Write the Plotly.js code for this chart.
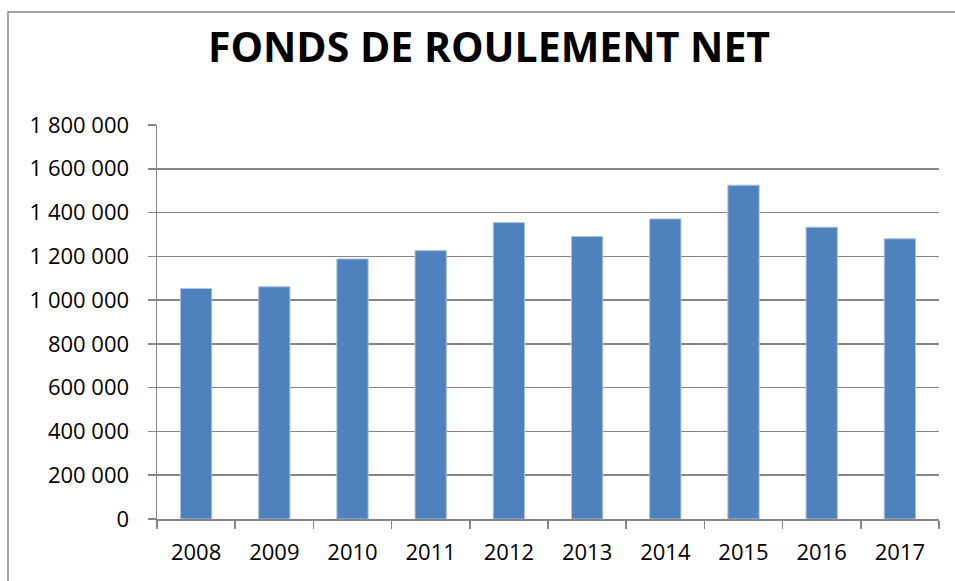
<!DOCTYPE html>
<html>
<head>
<meta charset="utf-8">
<script src="https://cdn.plot.ly/plotly-3.0.1.min.js"></script>
<style>
  html, body { margin: 0; padding: 0; background: #fff; }
  #chart { width: 955px; height: 581px; }
</style>
</head>
<body>
<div id="chart"></div>
<script>
const years = ['2008','2009','2010','2011','2012','2013','2014','2015','2016','2017'];
const fondsRoulement = [1053000, 1061000, 1188000, 1226000, 1354000, 1291000, 1371000, 1525000, 1333000, 1280000];
const yTicks = [0, 200000, 400000, 600000, 800000, 1000000, 1200000, 1400000, 1600000, 1800000];
const chartTitle = 'FONDS DE ROULEMENT NET';

const L = 157, R = 16, T = 125, B = 62, W = 955, H = 581;
const pw = W - L - R, ph = H - T - B;
const px2x = p => (p - L) / pw;
const py2y = p => (H - B - p) / ph;

const trace = {
  type: 'bar',
  x: years,
  y: fondsRoulement,
  marker: { color: '#4F81BD', line: { color: '#a9c1e3', width: 1 } },
  hoverinfo: 'x+y'
};

const layout = {
  width: W, height: H,
  margin: { l: L, r: R, t: T, b: B, pad: 0 },
  paper_bgcolor: '#fff', plot_bgcolor: '#fff',
  separators: '. ',
  showlegend: false,
  bargap: 0.6,
  font: { family: 'Open Sans, Lato, sans-serif', color: '#000', size: 22 },
  title: {
    text: '<b>' + chartTitle + '</b>',
    font: { family: 'Open Sans, Lato, sans-serif', size: 41, color: '#000' },
    x: px2x(489), xref: 'paper', xanchor: 'center',
    y: 1 - 48 / H, yref: 'container', yanchor: 'middle'
  },
  xaxis: {
    type: 'category',
    tickson: 'boundaries',
    ticks: 'outside', ticklen: 8, tickwidth: 1.5, tickcolor: '#868686',
    showline: true, linecolor: '#868686', linewidth: 1.5,
    showgrid: false,
    tickfont: { size: 22 },
    ticklabelstandoff: 13,
    fixedrange: true
  },
  yaxis: {
    range: [0, 1800000],
    tickvals: yTicks,
    tickformat: ',d',
    ticks: 'outside', ticklen: 8, tickwidth: 1.5, tickcolor: '#868686',
    showline: true, linecolor: '#868686', linewidth: 1.5,
    showgrid: true, gridcolor: '#868686', gridwidth: 1.5,
    zeroline: false,
    tickfont: { size: 22 },
    ticklabelstandoff: 14,
    fixedrange: true
  },
  shapes: [{
    type: 'rect', xref: 'paper', yref: 'paper',
    x0: px2x(8), x1: px2x(1000), y0: py2y(700), y1: py2y(12),
    line: { color: '#868686', width: 1.5 }, fillcolor: 'rgba(0,0,0,0)', layer: 'below'
  }]
};

Plotly.newPlot('chart', [trace], layout, { displayModeBar: false, staticPlot: true });
</script>
</body>
</html>
